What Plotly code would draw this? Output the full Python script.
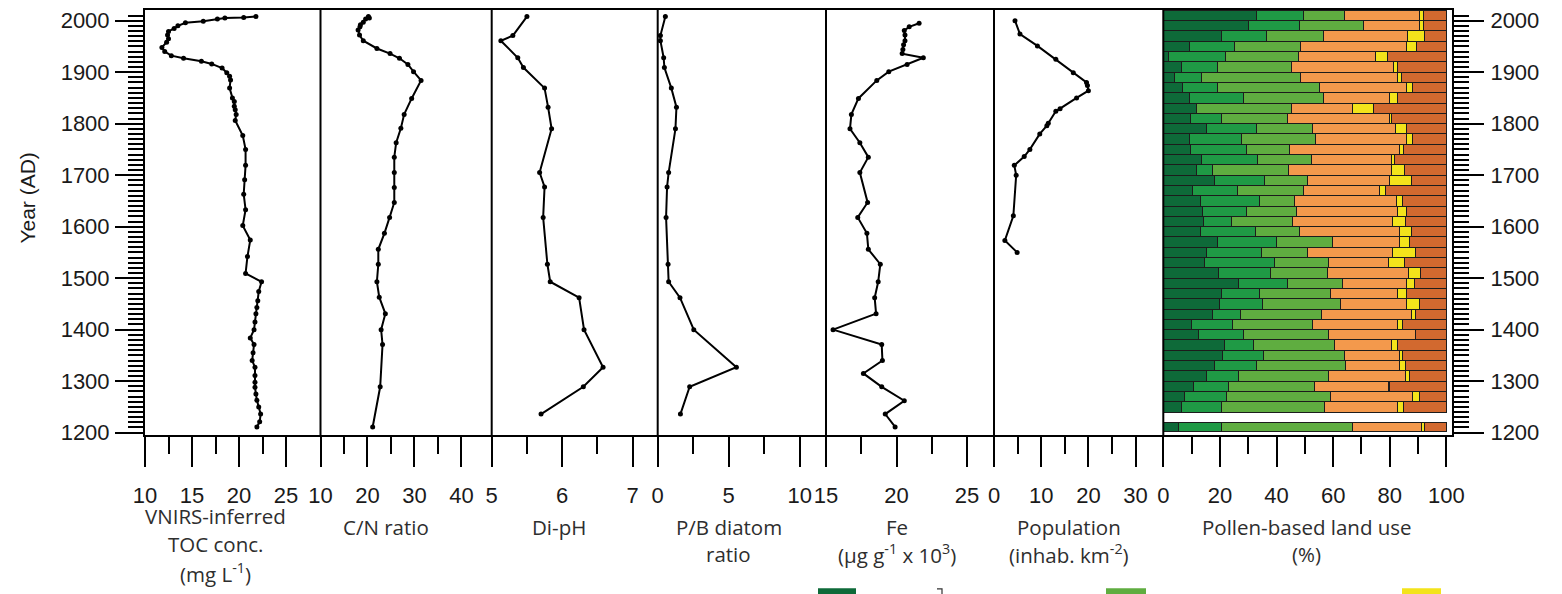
import plotly.graph_objects as go

# ---------------- data ----------------
toc_year = [2008, 2006, 2005, 2003, 1999, 1996, 1990, 1985, 1979, 1972, 1965, 1958, 1948, 1940, 1932,
            1927, 1921, 1916, 1908, 1899, 1892, 1885, 1869, 1850, 1843, 1834, 1827, 1818, 1806, 1777,
            1750, 1719, 1691, 1663, 1633, 1602, 1574, 1542, 1509, 1493, 1474, 1456, 1443, 1431, 1415,
            1400, 1384, 1371, 1355, 1340, 1327, 1311, 1298, 1288, 1275, 1263, 1250, 1236, 1221, 1211]
toc_val = [21.8, 20.5, 18.5, 17.7, 16.2, 14.3, 13.5, 13.1, 12.5, 12.4, 12.5, 12.3, 11.8, 12.1, 12.8,
           14.1, 16.0, 17.1, 18.2, 18.7, 19.0, 19.1, 19.0, 19.3, 19.5, 19.5, 19.6, 19.7, 19.6, 20.4,
           20.7, 20.7, 20.6, 20.5, 20.7, 20.4, 21.2, 20.9, 20.7, 22.4, 22.1, 22.0, 21.9, 21.8, 21.7,
           21.6, 21.2, 21.6, 21.5, 21.4, 21.7, 21.7, 21.7, 21.7, 21.8, 21.9, 22.1, 22.3, 22.2, 21.9]

cn_year = [2008, 2005, 2003, 1997, 1992, 1988, 1982, 1972, 1961, 1946, 1936, 1927, 1915, 1901, 1884,
           1849, 1818, 1791, 1763, 1735, 1705, 1676, 1647, 1618, 1587, 1556, 1527, 1493, 1463, 1431,
           1400, 1371, 1289, 1211]
cn_val = [20.2, 20.4, 19.6, 19.1, 18.5, 18.4, 18.0, 18.3, 19.1, 22.0, 24.8, 26.8, 28.6, 29.8, 31.4,
          29.4, 27.8, 27.1, 26.1, 25.7, 25.7, 25.7, 25.7, 24.7, 23.6, 22.3, 22.3, 22.0, 22.5, 23.8,
          22.9, 23.2, 22.7, 21.1]

diatom_year = [2008, 1971, 1961, 1928, 1909, 1869, 1832, 1790, 1705, 1677, 1618, 1527, 1493, 1462,
               1400, 1327, 1289, 1236]
ph_val = [5.50, 5.30, 5.13, 5.37, 5.45, 5.75, 5.80, 5.85, 5.68, 5.75, 5.73, 5.79, 5.83, 6.24,
          6.31, 6.58, 6.30, 5.70]
pb_val = [0.54, 0.19, 0.19, 0.42, 0.47, 0.96, 1.32, 1.25, 0.77, 0.66, 0.59, 0.73, 0.77, 1.57,
          2.54, 5.54, 2.25, 1.60]

fe_year = [1995, 1988, 1981, 1972, 1961, 1953, 1944, 1936, 1928, 1915, 1901, 1884, 1849, 1818, 1790,
           1763, 1735, 1705, 1647, 1618, 1587, 1556, 1527, 1493, 1462, 1431, 1400, 1371, 1340, 1315,
           1289, 1262, 1236, 1211]
fe_val = [21.6, 20.9, 20.55, 20.6, 20.6, 20.5, 20.45, 20.4, 21.9, 20.75, 19.45, 18.6, 17.3, 16.8, 16.7,
          17.4, 18.0, 17.4, 17.95, 17.25, 17.9, 18.0, 18.85, 18.7, 18.45, 18.55, 15.5, 18.95, 19.0, 17.65,
          18.95, 20.55, 19.2, 19.9]

pop_year = [2000, 1974, 1951, 1925, 1899, 1880, 1874, 1864, 1850, 1829, 1824, 1801, 1796, 1780, 1750,
            1736, 1719, 1700, 1621, 1573, 1550]
pop_val = [4.45, 5.5, 9.2, 13.1, 16.8, 19.6, 19.8, 20.0, 17.5, 14.0, 13.1, 11.5, 11.2, 9.7, 7.6,
           6.4, 4.3, 4.7, 4.1, 2.3, 4.9]

# pollen-based land use (%), one value per time slice
pollen_year = [2010, 1990, 1970, 1950, 1930, 1910, 1890, 1870, 1850, 1830, 1810, 1790, 1770, 1750,
               1730, 1710, 1690, 1670, 1650, 1630, 1610, 1590, 1570, 1550, 1530, 1510, 1490, 1470,
               1450, 1430, 1410, 1390, 1370, 1350, 1330, 1310, 1290, 1270, 1250, 1211]
lu_a = [32.9, 30.0, 20.6, 9.4, 1.8, 6.5, 3.8, 6.8, 9.2, 11.8, 9.7, 15.3, 9.3, 9.6, 13.5, 11.8, 18.0,
        10.4, 13.2, 13.8, 14.1, 13.2, 19.2, 15.1, 14.4, 19.6, 26.5, 20.4, 19.8, 17.4, 9.8, 12.6, 21.5,
        20.9, 18.2, 15.1, 10.6, 7.4, 6.5, 5.3]
lu_b = [16.5, 18.0, 15.9, 15.9, 20.0, 12.7, 9.7, 12.4, 19.0, 0.0, 10.9, 17.6, 18.2, 19.8, 19.8, 5.5,
        17.9, 15.7, 20.9, 15.6, 10.0, 19.5, 20.8, 19.6, 25.0, 18.3, 17.4, 13.7, 15.3, 9.9, 14.7, 15.6,
        10.5, 14.6, 14.7, 11.6, 12.6, 15.0, 13.9, 15.3]
lu_c = [14.7, 22.6, 20.2, 23.2, 26.1, 26.1, 35.1, 35.9, 28.3, 33.5, 23.3, 19.7, 26.3, 15.3, 19.1, 27.1,
        15.0, 23.5, 12.1, 17.7, 21.5, 15.3, 19.8, 16.2, 18.8, 20.1, 19.4, 25.0, 27.5, 28.6, 28.2, 30.0,
        28.6, 28.6, 31.5, 31.8, 30.1, 36.8, 36.4, 46.2]
lu_d = [26.3, 20.0, 29.4, 37.4, 27.2, 35.9, 34.3, 30.8, 23.3, 21.5, 36.1, 29.5, 32.1, 38.9, 28.2, 36.2,
        28.9, 26.6, 36.2, 35.5, 35.3, 35.3, 23.5, 30.0, 21.2, 28.5, 22.6, 23.8, 23.3, 31.7, 29.9, 31.0,
        20.0, 19.4, 18.9, 27.1, 26.1, 28.7, 26.1, 24.4]
lu_e = [1.6, 1.4, 6.3, 3.7, 4.0, 1.7, 1.2, 2.0, 3.1, 7.3, 0.6, 3.7, 2.0, 1.1, 1.2, 4.5, 7.8, 2.4, 2.0,
        3.3, 4.6, 4.3, 3.5, 8.2, 5.9, 4.3, 2.9, 3.0, 4.7, 1.5, 1.9, 0.0, 2.1, 0.9, 2.3, 1.5, 0.6, 2.7,
        2.0, 0.9]
lu_f = [8.0, 8.0, 7.6, 10.4, 20.9, 17.1, 15.9, 12.1, 17.1, 25.9, 19.4, 14.2, 12.1, 15.3, 18.2, 14.9,
        12.4, 21.4, 15.6, 14.1, 14.5, 12.4, 13.2, 10.9, 14.7, 9.2, 11.2, 14.1, 9.4, 10.9, 15.5, 10.8,
        17.3, 15.6, 14.4, 12.9, 20.0, 9.4, 15.1, 7.9]

year_ticks = [1200, 1300, 1400, 1500, 1600, 1700, 1800, 1900, 2000]

# ---------------- layout helpers ----------------
W, H = 1562, 594
ML, MR, MT, MB = 145, 110, 8, 159
PW, PH = W - ML - MR, H - MT - MB


def px_x(p):
    return (p - ML) / PW


def px_y(p):
    return (H - MB - p) / PH


edges = [145, 320.5, 491.7, 657.7, 826, 994, 1163.3, 1452]
dom = [(round(px_x(edges[i]), 5), round(px_x(edges[i + 1]), 5)) for i in range(7)]

panels = [
    dict(rng=[10, 28.67], major=[10, 15, 20, 25], minor=[12.5, 17.5, 22.5]),
    dict(rng=[10, 46.43], major=[10, 20, 30, 40], minor=[15, 25, 35]),
    dict(rng=[5, 7.355], major=[5, 6, 7], minor=[5.5, 6.5]),
    dict(rng=[0, 11.85], major=[0, 5, 10], minor=[2.5, 7.5]),
    dict(rng=[15, 26.91], major=[15, 20, 25], minor=[17.5, 22.5]),
    dict(rng=[0, 35.87], major=[0, 10, 20, 30], minor=[5, 15, 25]),
    dict(rng=[0, 101.98], major=[0, 20, 40, 60, 80, 100], minor=[10, 30, 50, 70, 90]),
]

TICKFONT = dict(family="Liberation Sans, Arial, sans-serif", size=22, color="#1a1a1a")
TITLEFONT = dict(family="Open Sans, sans-serif", size=20.5, color="#2e2e2e")

fig = go.Figure()

line_sets = [
    (toc_val, toc_year, "x"),
    (cn_val, cn_year, "x2"),
    (ph_val, diatom_year, "x3"),
    (pb_val, diatom_year, "x4"),
    (fe_val, fe_year, "x5"),
    (pop_val, pop_year, "x6"),
]
for xv, yv, xa in line_sets:
    fig.add_trace(go.Scatter(
        x=xv, y=yv, xaxis=xa, yaxis="y", mode="lines+markers",
        line=dict(color="black", width=2),
        marker=dict(color="black", size=5),
        showlegend=False, hoverinfo="skip", cliponaxis=False))

classes = [
    (lu_a, "#0e6a39"),
    (lu_b, "#1f9a45"),
    (lu_c, "#5fad40"),
    (lu_d, "#f3994c"),
    (lu_e, "#f3e31b"),
    (lu_f, "#d2692f"),
]
bar_w = [20] * (len(pollen_year) - 1) + [19.3]
for vals, col in classes:
    fig.add_trace(go.Bar(
        x=vals, y=pollen_year, orientation="h", xaxis="x7", yaxis="y",
        width=bar_w, marker=dict(color=col, line=dict(color="#1c1c1c", width=1)),
        showlegend=False, hoverinfo="skip"))

# invisible trace carrying the right-hand year axis
fig.add_trace(go.Scatter(x=[50], y=[1600], xaxis="x7", yaxis="y2", mode="markers",
                         marker=dict(opacity=0), showlegend=False, hoverinfo="skip"))

layout = dict(
    width=W, height=H, margin=dict(l=ML, r=MR, t=MT, b=MB, pad=0),
    plot_bgcolor="white", paper_bgcolor="white", barmode="stack", showlegend=False,
)

yrange = [1195.4, 2020.7]
ycommon = dict(
    range=yrange, tickvals=year_ticks, ticks="outside", ticklen=28, tickwidth=2, tickcolor="black",
    showline=True, linecolor="black", linewidth=2, showgrid=False, zeroline=False,
    tickfont=TICKFONT,
    minor=dict(tickvals=[v for v in range(1210, 2011, 10) if v % 100], ticks="outside",
               ticklen=15, tickwidth=2, tickcolor="black", showgrid=False),
)
layout["yaxis"] = dict(ycommon, domain=[0, 1], anchor="x", side="left", ticklabelstandoff=1)
layout["yaxis2"] = dict(ycommon, overlaying="y", anchor="x7", side="right", ticklen=30,
                        ticklabelstandoff=2)

for i, p in enumerate(panels):
    key = "xaxis" if i == 0 else f"xaxis{i + 1}"
    layout[key] = dict(
        domain=list(dom[i]), range=p["rng"], anchor="y", side="bottom",
        tickvals=p["major"], ticks="outside", ticklen=30, tickwidth=2, tickcolor="black",
        showline=True, linecolor="black", linewidth=2, mirror=True,
        showgrid=False, zeroline=False, tickfont=TICKFONT, ticklabelstandoff=10,
        minor=dict(tickvals=p["minor"], ticks="outside", ticklen=17, tickwidth=2,
                   tickcolor="black", showgrid=False),
    )

fig.update_layout(**layout)

# panel separators
for e in edges[1:-1]:
    fig.add_shape(type="line", xref="paper", yref="paper", x0=px_x(e), x1=px_x(e), y0=0, y1=1,
                  line=dict(color="black", width=2))

# axis titles below each panel
titles = [
    ("x", 17.5, ["VNIRS-inferred", "TOC conc.", "(mg L<sup>-1</sup>)"], [516.7, 545, 574]),
    ("x2", 24.0, ["C/N ratio"], [527]),
    ("x3", 5.95, ["Di-pH"], [527]),
    ("x4", 5.0, ["P/B diatom", "ratio"], [527, 555]),
    ("x5", 20.0, ["Fe", "(µg g<sup>-1</sup> x 10<sup>3</sup>)"], [527, 555]),
    ("x6", 15.8, ["Population", "(inhab. km<sup>-2</sup>)"], [527, 555]),
    ("x7", 50.6, ["Pollen-based land use", "(%)"], [527, 555]),
]
for xr, xc, lines, ys in titles:
    for txt, yp in zip(lines, ys):
        fig.add_annotation(text=txt, xref=xr, yref="paper", x=xc, y=px_y(yp),
                           xanchor="center", yanchor="middle", showarrow=False, font=TITLEFONT)

fig.add_annotation(text="Year (AD)", xref="paper", yref="paper", x=px_x(28), y=px_y(197.5),
                   xanchor="center", yanchor="middle", textangle=-90, showarrow=False,
                   font=dict(family="Liberation Sans, Arial, sans-serif", size=21, color="#1a1a1a"))

# partially visible legend swatches at the bottom edge
for x0, x1, col in [(818, 856, "#0e6a39"), (1106, 1146, "#5fad40"), (1402, 1441, "#f3e31b")]:
    fig.add_shape(type="rect", xref="paper", yref="paper", x0=px_x(x0), x1=px_x(x1),
                  y0=px_y(589), y1=px_y(610), fillcolor=col, line=dict(width=0))
fig.add_shape(type="path", xref="paper", yref="paper",
              path=f"M {px_x(937)} {px_y(589.5)} L {px_x(942)} {px_y(589.5)} L {px_x(942)} {px_y(610)}",
              line=dict(color="#333333", width=1.2))

fig.write_html("out.html", config={"displayModeBar": False},
               post_script="document.body.style.margin='0px';")
